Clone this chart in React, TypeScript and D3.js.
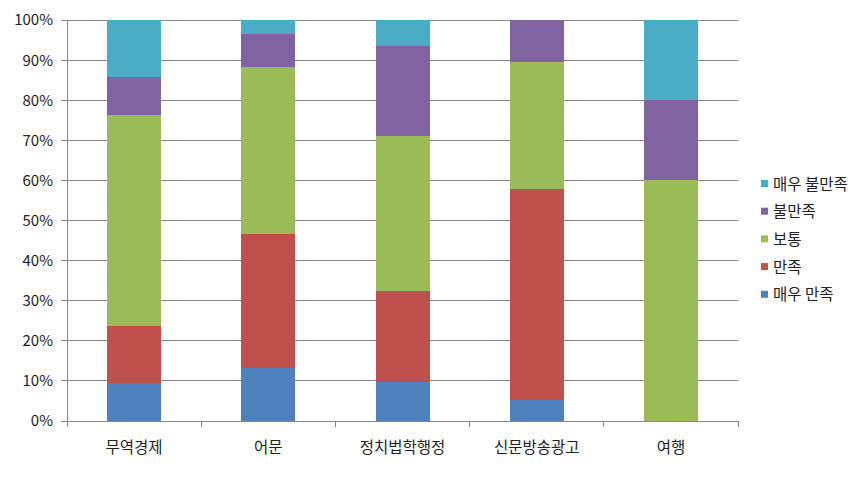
import React from "react";
import * as d3 from "d3";

const categories = ["무역경제", "어문", "정치법학행정", "신문방송광고", "여행"];
const seriesNames = ["매우 만족", "만족", "보통", "불만족", "매우 불만족"];
const seriesColors = ["#4F81BD", "#C0504D", "#9BBB59", "#8064A2", "#4BACC6"];
// percentage values per series (each category sums to 100)
const veryGood = [9.5, 13.3, 9.7, 5.3, 0];
const good = [14.3, 33.3, 22.6, 52.6, 0];
const normal = [52.4, 41.7, 38.7, 31.6, 60];
const bad = [9.5, 8.3, 22.6, 10.5, 20];
const veryBad = [14.3, 3.4, 6.4, 0, 20];
const yTicks = [0, 10, 20, 30, 40, 50, 60, 70, 80, 90, 100];

const W = 866;
const H = 477;
const left = 67;
const right = 738;
const top = 20;
const bottom = 421;
const FONT = "'Noto Sans CJK KR', 'Noto Sans', sans-serif";

export default function App() {
  const series = [veryGood, good, normal, bad, veryBad];
  const rows = categories.map((c, i) => {
    const r: any = { cat: c };
    seriesNames.forEach((s, k) => (r[s] = series[k][i]));
    return r;
  });
  const stacked = d3.stack().keys(seriesNames)(rows);
  const x = d3.scaleBand().domain(categories).range([left, right]).paddingInner(0).paddingOuter(0);
  const y = d3.scaleLinear().domain([0, 100]).range([bottom, top]);
  const barW = 54;

  const boundaries = d3.range(categories.length + 1).map((i) => left + i * x.bandwidth());

  return (
    <svg width={W} height={H} style={{ position: "absolute", left: 0, top: 0, background: "#fff" }}>
      {yTicks.map((t) => (
        <g key={t}>
          <line x1={61} x2={right} y1={y(t)} y2={y(t)} stroke="#878787" strokeWidth={1} shapeRendering="crispEdges" />
          <text x={53} y={y(t)} dy="0.36em" textAnchor="end" fontFamily={FONT} fontSize={15} fill="#222">
            {t}%
          </text>
        </g>
      ))}
      <line x1={left} x2={left} y1={top} y2={bottom} stroke="#878787" shapeRendering="crispEdges" />
      {boundaries.map((b, i) => (
        <line key={i} x1={b} x2={b} y1={bottom} y2={bottom + 6} stroke="#878787" shapeRendering="crispEdges" />
      ))}
      {stacked.map((s, k) => (
        <g key={s.key} fill={seriesColors[k]}>
          {s.map((d, i) => {
            const h = y(d[0]) - y(d[1]);
            if (h <= 0) return null;
            return (
              <rect
                key={i}
                x={(x(categories[i]) as number) + x.bandwidth() / 2 - barW / 2}
                y={y(d[1])}
                width={barW}
                height={h}
                shapeRendering="crispEdges"
              />
            );
          })}
        </g>
      ))}
      {categories.map((c) => (
        <text
          key={c}
          x={(x(c) as number) + x.bandwidth() / 2}
          y={453}
          textAnchor="middle"
          fontFamily={FONT}
          fontSize={15.5}
          fill="#222"
        >
          {c}
        </text>
      ))}
      {seriesNames
        .slice()
        .reverse()
        .map((s, i) => {
          const k = seriesNames.length - 1 - i;
          const cy = 184 + i * 27.7;
          return (
            <g key={s}>
              <rect x={761} y={cy - 4} width={7} height={7} fill={seriesColors[k]} />
              <text x={773} y={cy} dy="0.36em" fontFamily={FONT} fontSize={15.5} fill="#222">
                {s}
              </text>
            </g>
          );
        })}
    </svg>
  );
}
